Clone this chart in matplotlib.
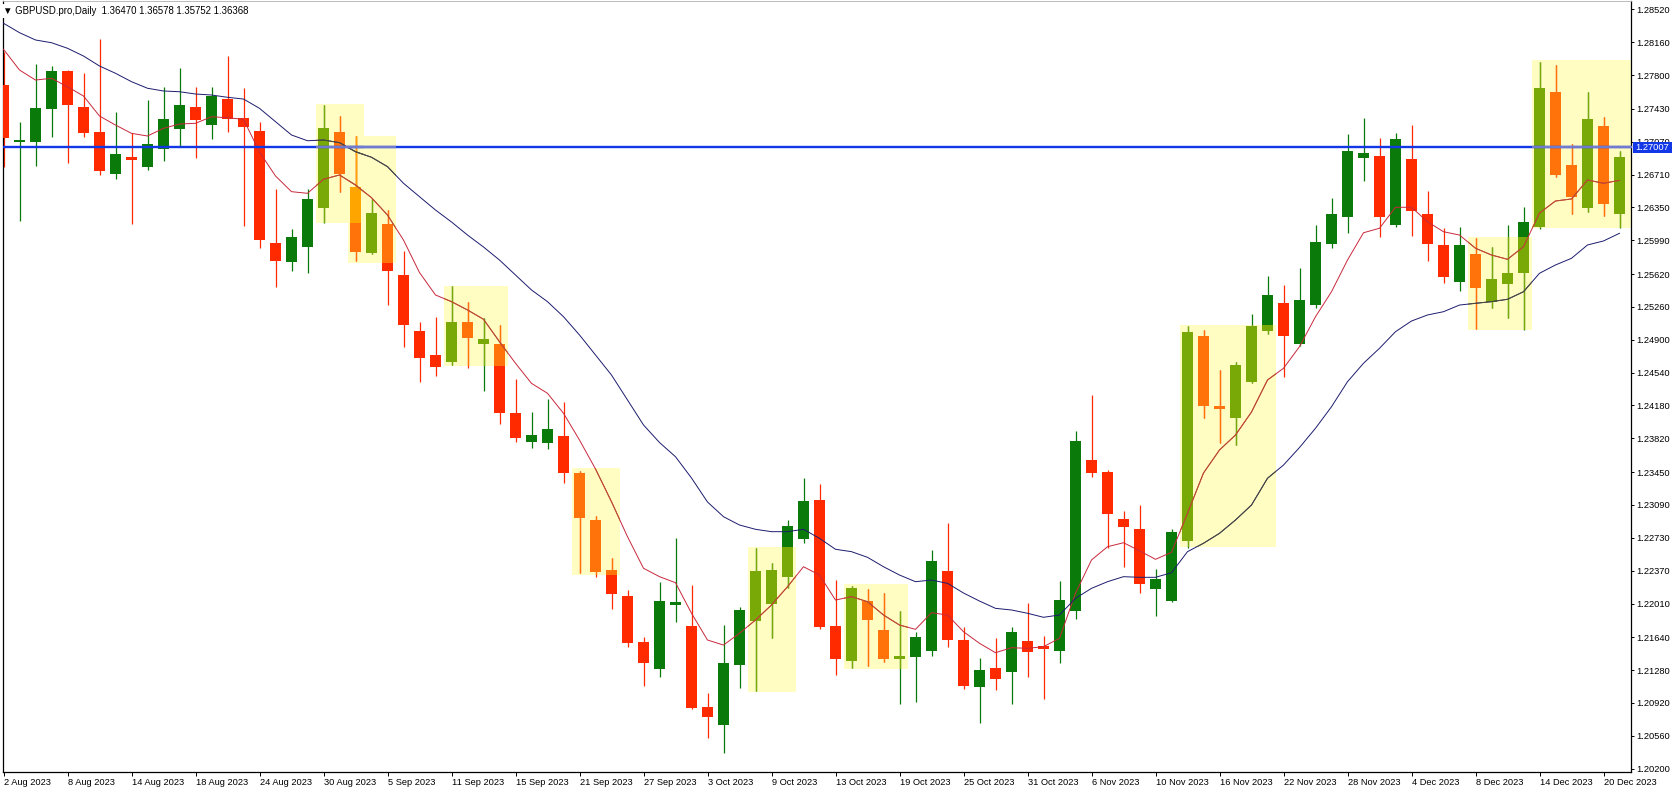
import matplotlib
matplotlib.use("Agg")
import matplotlib.pyplot as plt
from matplotlib.patches import Rectangle
from matplotlib.collections import PolyCollection, LineCollection
import numpy as np

plt.rcParams['font.family'] = ['Liberation Sans', 'DejaVu Sans']

# ---------------- data (GBPUSD daily, 2 Aug 2023 .. 21 Dec 2023) ----------------
opens = [1.27691, 1.27072, 1.27069, 1.27424, 1.27844, 1.27446, 1.27176, 1.26719, 1.26902, 1.26796,
         1.26986, 1.27212, 1.27450, 1.27256, 1.27537, 1.27329, 1.27187, 1.25960, 1.25755, 1.25919,
         1.26346, 1.27179, 1.26576, 1.25853, 1.26168, 1.25609, 1.24996, 1.24733, 1.24659, 1.25094,
         1.24850, 1.24853, 1.24094, 1.23783, 1.23772, 1.23845, 1.23443, 1.22925, 1.22377, 1.22092,
         1.21588, 1.21296, 1.21997, 1.21763, 1.20879, 1.20679, 1.21336, 1.21822, 1.22004, 1.22304,
         1.22720, 1.23144, 1.21763, 1.21383, 1.22037, 1.21720, 1.21399, 1.21427, 1.21493, 1.22366,
         1.21610, 1.21092, 1.21300, 1.21263, 1.21596, 1.21548, 1.21493, 1.21931, 1.23582, 1.23454,
         1.22936, 1.22826, 1.22169, 1.22037, 1.22695, 1.24941, 1.24174, 1.24046, 1.24440, 1.24999,
         1.25306, 1.24853, 1.25280, 1.25949, 1.26248, 1.26894, 1.26913, 1.26157, 1.26877, 1.26277,
         1.25938, 1.25536, 1.25839, 1.25317, 1.25507, 1.25628, 1.26138, 1.27617, 1.26814, 1.26346,
         1.27241, 1.26277]
highs = [1.28055, 1.27289, 1.27921, 1.27899, 1.27855, 1.27819, 1.28195, 1.27395, 1.27161, 1.27526,
         1.27665, 1.27874, 1.27665, 1.27665, 1.28008, 1.27655, 1.27289, 1.26548, 1.26110, 1.26548,
         1.27472, 1.27351, 1.27132, 1.26438, 1.26321, 1.25877, 1.25097, 1.25152, 1.25489, 1.25317,
         1.25135, 1.25061, 1.24470, 1.24105, 1.24247, 1.24214, 1.23462, 1.22969, 1.22512, 1.22158,
         1.21646, 1.22249, 1.22724, 1.22213, 1.21026, 1.21774, 1.21968, 1.22621, 1.22457, 1.22925,
         1.23388, 1.23319, 1.22267, 1.22205, 1.22166, 1.22122, 1.21928, 1.21701, 1.22596, 1.22895,
         1.21756, 1.21413, 1.21635, 1.21749, 1.22012, 1.21654, 1.22253, 1.23900, 1.24294, 1.23473,
         1.23023, 1.23089, 1.22388, 1.22823, 1.25054, 1.25006, 1.24568, 1.24659, 1.25182, 1.25601,
         1.25499, 1.25682, 1.26157, 1.26449, 1.27154, 1.27326, 1.27107, 1.27161, 1.27252, 1.26529,
         1.26127, 1.26132, 1.26018, 1.25919, 1.26157, 1.26357, 1.27946, 1.27910, 1.27044, 1.27617,
         1.27337, 1.26971]
lows = [1.26796, 1.26204, 1.26807, 1.27124, 1.26839, 1.27118, 1.26701, 1.26658, 1.26165, 1.26756,
        1.26861, 1.27015, 1.26888, 1.27102, 1.27179, 1.26149, 1.25908, 1.25481, 1.25656, 1.25628,
        1.26182, 1.26522, 1.25766, 1.25839, 1.25280, 1.24824, 1.24440, 1.24502, 1.24623, 1.24593,
        1.24341, 1.23973, 1.23783, 1.23710, 1.23699, 1.23327, 1.22341, 1.22304, 1.21946, 1.21530,
        1.21109, 1.21208, 1.21811, 1.20854, 1.20533, 1.20375, 1.21081, 1.21055, 1.21629, 1.22180,
        1.22670, 1.21727, 1.21227, 1.21307, 1.21329, 1.21372, 1.20906, 1.20934, 1.21438, 1.21537,
        1.21070, 1.20701, 1.21062, 1.20909, 1.21201, 1.20960, 1.21361, 1.21843, 1.23393, 1.22621,
        1.22413, 1.22128, 1.21876, 1.22030, 1.22621, 1.24039, 1.23765, 1.23746, 1.24426, 1.24959,
        1.24488, 1.24831, 1.25244, 1.25908, 1.26066, 1.26642, 1.26029, 1.26132, 1.26040, 1.25762,
        1.25518, 1.25437, 1.25014, 1.25244, 1.25135, 1.25006, 1.26110, 1.26679, 1.26277, 1.26303,
        1.26255, 1.26121]
closes = [1.27107, 1.27088, 1.27435, 1.27844, 1.27475, 1.27168, 1.26752, 1.26935, 1.26866, 1.27044,
          1.27318, 1.27472, 1.27310, 1.27570, 1.27321, 1.27234, 1.25996, 1.25766, 1.26025, 1.26442,
          1.27223, 1.26719, 1.25864, 1.26292, 1.25656, 1.25061, 1.24703, 1.24604, 1.25094, 1.24922,
          1.24908, 1.24100, 1.23827, 1.23856, 1.23919, 1.23443, 1.22950, 1.22358, 1.22111, 1.21574,
          1.21355, 1.22037, 1.22026, 1.20868, 1.20770, 1.21355, 1.21939, 1.22366, 1.22377, 1.22859,
          1.23133, 1.21756, 1.21405, 1.22183, 1.21829, 1.21402, 1.21435, 1.21640, 1.22476, 1.21610,
          1.21109, 1.21281, 1.21180, 1.21694, 1.21482, 1.21515, 1.22048, 1.23790, 1.23443, 1.22990,
          1.22851, 1.22224, 1.22278, 1.22797, 1.24988, 1.24174, 1.24144, 1.24623, 1.25050, 1.25390,
          1.24941, 1.25335, 1.25967, 1.26277, 1.26968, 1.26942, 1.26241, 1.27096, 1.26314, 1.25949,
          1.25590, 1.25938, 1.25470, 1.25565, 1.25634, 1.26193, 1.27655, 1.26705, 1.26467, 1.27318,
          1.26387, 1.26905]

# moving averages as drawn on the chart
ma_fast = [1.28082, 1.27855, 1.27745, 1.27764, 1.27672, 1.27570, 1.27351, 1.27252, 1.27161, 1.27132,
           1.27216, 1.27263, 1.27271, 1.27343, 1.27332, 1.27315, 1.26957, 1.26694, 1.26522, 1.26504,
           1.26658, 1.26705, 1.26595, 1.26456, 1.26266, 1.25992, 1.25636, 1.25390, 1.25317, 1.25226,
           1.25124, 1.24878, 1.24642, 1.24422, 1.24313, 1.24094, 1.23801, 1.23484, 1.23125, 1.22742,
           1.22396, 1.22304, 1.22238, 1.21903, 1.21610, 1.21555, 1.21684, 1.21829, 1.21994, 1.22194,
           1.22413, 1.22322, 1.22048, 1.22085, 1.22030, 1.21884, 1.21774, 1.21727, 1.21909, 1.21884,
           1.21701, 1.21574, 1.21471, 1.21526, 1.21519, 1.21537, 1.21629, 1.22122, 1.22487, 1.22632,
           1.22676, 1.22588, 1.22494, 1.22571, 1.22998, 1.23440, 1.23692, 1.23856, 1.24108, 1.24459,
           1.24587, 1.24824, 1.25152, 1.25426, 1.25773, 1.26072, 1.26121, 1.26351, 1.26351, 1.26193,
           1.26083, 1.26047, 1.25902, 1.25828, 1.25781, 1.25919, 1.26288, 1.26420, 1.26442, 1.26650,
           1.26614, 1.26646]
ma_slow = [1.28367, 1.28264, 1.28184, 1.28154, 1.28093, 1.28008, 1.27899, 1.27819, 1.27727, 1.27655,
           1.27625, 1.27617, 1.27592, 1.27581, 1.27556, 1.27537, 1.27435, 1.27289, 1.27143, 1.27080,
           1.27088, 1.27059, 1.26960, 1.26899, 1.26796, 1.26614, 1.26467, 1.26321, 1.26190, 1.26047,
           1.25916, 1.25773, 1.25609, 1.25445, 1.25317, 1.25152, 1.24952, 1.24733, 1.24513, 1.24240,
           1.23966, 1.23774, 1.23618, 1.23385, 1.23122, 1.22961, 1.22870, 1.22823, 1.22797, 1.22797,
           1.22823, 1.22724, 1.22604, 1.22578, 1.22516, 1.22413, 1.22322, 1.22249, 1.22267, 1.22231,
           1.22125, 1.22037, 1.21957, 1.21939, 1.21903, 1.21859, 1.21884, 1.22067, 1.22176, 1.22249,
           1.22304, 1.22297, 1.22297, 1.22347, 1.22578, 1.22670, 1.22779, 1.22925, 1.23089, 1.23382,
           1.23527, 1.23719, 1.23930, 1.24166, 1.24440, 1.24642, 1.24806, 1.24988, 1.25105, 1.25171,
           1.25207, 1.25280, 1.25299, 1.25317, 1.25343, 1.25426, 1.25628, 1.25719, 1.25792, 1.25938,
           1.25982, 1.26066]

hline_price = 1.27007
hline_label = "1.27007"

date_labels = ['2 Aug 2023', '8 Aug 2023', '14 Aug 2023', '18 Aug 2023', '24 Aug 2023',
               '30 Aug 2023', '5 Sep 2023', '11 Sep 2023', '15 Sep 2023', '21 Sep 2023',
               '27 Sep 2023', '3 Oct 2023', '9 Oct 2023', '13 Oct 2023', '19 Oct 2023',
               '25 Oct 2023', '31 Oct 2023', '6 Nov 2023', '10 Nov 2023', '16 Nov 2023',
               '22 Nov 2023', '28 Nov 2023', '4 Dec 2023', '8 Dec 2023', '14 Dec 2023',
               '20 Dec 2023']
price_ticks = [1.28520, 1.28160, 1.27800, 1.27430, 1.27070, 1.26710, 1.26350, 1.25990,
               1.25620, 1.25260, 1.24900, 1.24540, 1.24180, 1.23820, 1.23450, 1.23090,
               1.22730, 1.22370, 1.22010, 1.21640, 1.21280, 1.20920, 1.20560, 1.20200]

# highlight boxes: first bar, last bar, low price, high price
box_first = [20, 22, 28, 36, 47, 53, 74, 92, 96]
box_last = [22, 24, 31, 38, 49, 56, 79, 95, 101]
box_low = [1.26175, 1.25737, 1.24612, 1.22322, 1.21044, 1.21289, 1.22632, 1.25006, 1.26121]
box_high = [1.27483, 1.27132, 1.25489, 1.23491, 1.22626, 1.22224, 1.25061, 1.26022, 1.27965]

title_text = "\u25BC GBPUSD.pro,Daily  1.36470 1.36578 1.35752 1.36368"

# ---------------- styling ----------------
C_BULL, C_BEAR = '#0a7a0a', '#ff2a00'
C_BULL_IN, C_BEAR_IN = '#79a906', '#ff730a'
C_BULL_2, C_BEAR_2 = '#a8c000', '#ffa500'
C_BOX = '#fffdc2'
C_FAST, C_FAST_IN = '#c8283c', '#b9502e'
C_SLOW, C_SLOW_IN = '#1c1c6e', '#4c4c3c'
C_HL, C_HL_IN = '#1237e6', '#6f7ad0'
LW_MA = 0.7

W, H = 1676, 792
fig = plt.figure(figsize=(W / 100, H / 100), dpi=100)
fig.patch.set_facecolor('white')
L_PX, R_PX, T_PX, B_PX = 2.5, 1631, 1, 772
ax = fig.add_axes([L_PX / W, (H - B_PX) / H, (R_PX - L_PX) / W, (B_PX - T_PX) / H])
ax.set_facecolor('white')

n = len(opens)
bar_px, x0_px = 16.0, 3.5
xmin = (L_PX - x0_px) / bar_px
xmax = (R_PX - x0_px) / bar_px
ax.set_xlim(xmin, xmax)
ax.set_ylim(1.20164, 1.28611)

half = 5.5 / bar_px
min_body = 0.00018


def candle_artists(cbull, cbear, idx, clip=None):
    verts, fcs, segs = [], [], []
    for i in idx:
        o, h, l, c = opens[i], highs[i], lows[i], closes[i]
        col = cbull if c >= o else cbear
        lo, hi = min(o, c), max(o, c)
        if hi - lo < min_body:
            mid = (hi + lo) / 2
            lo, hi = mid - min_body / 2, mid + min_body / 2
        verts.append([(i - half, lo), (i + half, lo), (i + half, hi), (i - half, hi)])
        fcs.append(col)
        segs.append([(i, l), (i, h)])
    lc = LineCollection(segs, colors=fcs, linewidths=0.9, zorder=2, antialiased=True)
    pc = PolyCollection(verts, facecolors=fcs, edgecolors='none', zorder=3)
    ax.add_collection(lc)
    ax.add_collection(pc)
    if clip is not None:
        lc.set_clip_path(clip)
        pc.set_clip_path(clip)


def make_clip(x0, x1, y0, y1):
    return Rectangle((x0, y0), x1 - x0, y1 - y0, transform=ax.transData)


xs = np.arange(n)

# boxes
boxes = []
for f, la, lo, hi in zip(box_first, box_last, box_low, box_high):
    bx0 = f - 0.45
    bx1 = la + 0.5 if la < n - 1 else xmax + 0.5
    boxes.append((bx0, bx1, lo, hi))
    ax.add_patch(Rectangle((bx0, lo), bx1 - bx0, hi - lo, facecolor=C_BOX,
                           edgecolor='none', zorder=1))

# base candles and lines
candle_artists(C_BULL, C_BEAR, range(n))
ax.plot(xs, ma_fast, color=C_FAST, lw=LW_MA, zorder=4)
ax.plot(xs, ma_slow, color=C_SLOW, lw=LW_MA, zorder=4)
ax.axhline(hline_price, color=C_HL, lw=1.7, zorder=5)

# recoloured parts inside the boxes
for (bx0, bx1, lo, hi) in boxes:
    idx = [i for i in range(n) if bx0 - 1 <= i <= bx1 + 1]
    candle_artists(C_BULL_IN, C_BEAR_IN, idx, clip=make_clip(bx0, bx1, lo, hi))
    l1, = ax.plot(xs, ma_fast, color=C_FAST_IN, lw=LW_MA, zorder=4)
    l1.set_clip_path(make_clip(bx0, bx1, lo, hi))
    l2, = ax.plot(xs, ma_slow, color=C_SLOW_IN, lw=LW_MA, zorder=4)
    l2.set_clip_path(make_clip(bx0, bx1, lo, hi))
    l3 = ax.axhline(hline_price, color=C_HL_IN, lw=1.7, zorder=5)
    l3.set_clip_path(make_clip(bx0, bx1, lo, hi))

# overlapping box areas
for a in range(len(boxes)):
    for b in range(a + 1, len(boxes)):
        ox0 = max(boxes[a][0], boxes[b][0]); ox1 = min(boxes[a][1], boxes[b][1])
        oy0 = max(boxes[a][2], boxes[b][2]); oy1 = min(boxes[a][3], boxes[b][3])
        if ox0 < ox1 and oy0 < oy1:
            idx = [i for i in range(n) if ox0 - 1 <= i <= ox1 + 1]
            candle_artists(C_BULL_2, C_BEAR_2, idx, clip=make_clip(ox0, ox1, oy0, oy1))

# axes styling
for s in ['left', 'right', 'bottom']:
    ax.spines[s].set_color('black')
    ax.spines[s].set_linewidth(0.9)
ax.spines['top'].set_color('#b0b0b0')
ax.spines['top'].set_linewidth(0.6)

ax.yaxis.tick_right()
ax.set_yticks(price_ticks)
ax.set_yticklabels([f"{p:.5f}" for p in price_ticks])
ax.tick_params(axis='y', direction='out', length=2.5, width=0.7, labelsize=6.7,
               pad=1.6, colors='black')

ax.set_xticks(np.arange(0, 4 * len(date_labels), 4))
ax.set_xticklabels(date_labels)
ax.tick_params(axis='x', direction='out', length=3, width=0.7, labelsize=6.7, pad=1.2,
               colors='black')
for lab in ax.get_xticklabels():
    lab.set_horizontalalignment('left')

# price label box for the horizontal line (covers the 1.27070 label as in the terminal)
yl_px = ax.transData.transform((0, hline_price))[1]
fig.patches.append(Rectangle((1632.5 / W, (yl_px - 5.2) / H), 39.5 / W, 10.6 / H,
                             transform=fig.transFigure, facecolor=C_HL, edgecolor='none',
                             zorder=10))
fig.text(1635.5 / W, yl_px / H, hline_label, color='white', fontsize=6.7,
         va='center', ha='left', zorder=11)

# title
fig.text(3 / W, 1 - 11 / H, title_text, fontsize=6.9, va='center', ha='left',
         color='black', zorder=12,
         bbox=dict(facecolor='white', edgecolor='none', pad=1.5))

fig.savefig('out.png', dpi=100, facecolor='white')
